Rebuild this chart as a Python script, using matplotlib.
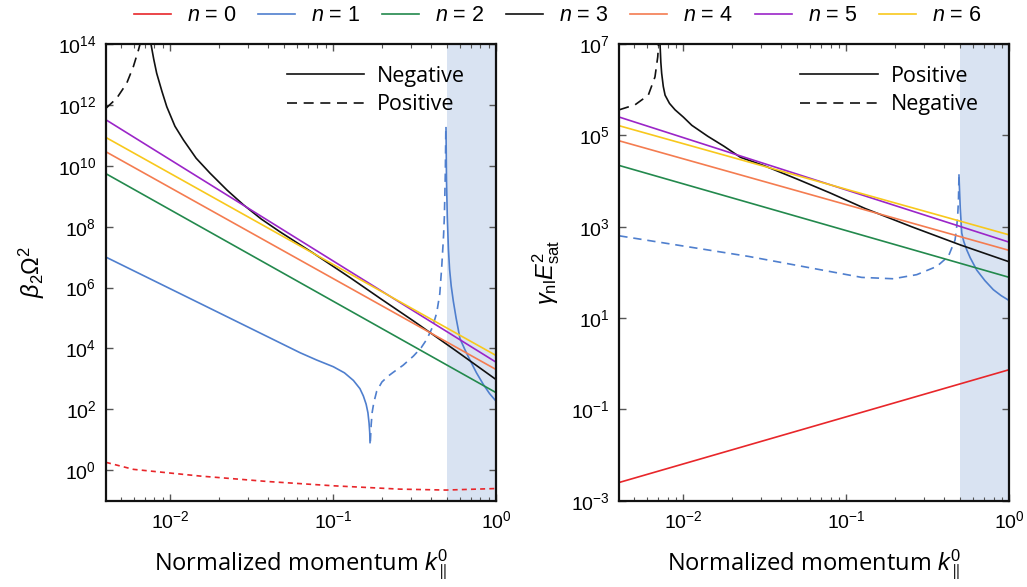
import numpy as np
import matplotlib
matplotlib.use("Agg")
import matplotlib.pyplot as plt
from matplotlib.lines import Line2D

plt.rcParams['font.family'] = ['Liberation Sans', 'DejaVu Sans']
plt.rcParams['mathtext.fontset'] = 'custom'
plt.rcParams['mathtext.rm'] = 'Liberation Sans'
plt.rcParams['mathtext.it'] = 'Liberation Sans:italic'
plt.rcParams['mathtext.bf'] = 'Liberation Sans:bold'

# ---------------- data (log10 values) ----------------
labels_n = ["$n$ = 0", "$n$ = 1", "$n$ = 2", "$n$ = 3", "$n$ = 4", "$n$ = 5", "$n$ = 6"]
colors = ['#e8262a', '#4f7fce', '#23894d', '#111111', '#f47c50', '#9b25c8', '#f8c81c']

# Left panel: beta_2 Omega^2   (log10 k, log10 value)
L_edge = [-2.393, 0.0]
L_n2 = [9.74, 2.55]
L_n4 = [10.46, 3.31]
L_n5 = [11.51, 3.55]
L_n6 = [10.93, 3.77]

L_n3_solid_lk = [-2.117, -2.100, -2.082, -2.050, -2.020, -1.970, -1.918, -1.840, -1.755,
                 -1.650, -1.550, -1.440, -1.325, -1.121, -0.896, -0.712, -0.500, -0.250, 0.0]
L_n3_solid_ly = [14.0, 13.5, 13.04, 12.45, 11.94, 11.30, 10.85, 10.25, 9.76,
                 9.20, 8.72, 8.25, 7.83, 7.13, 6.33, 5.65, 4.88, 3.94, 2.98]
L_n3_dash_lk = [-2.393, -2.327, -2.266, -2.225, -2.194, -2.184]
L_n3_dash_ly = [11.89, 12.22, 12.71, 13.26, 13.80, 14.0]

L_n1_solid_lk = [-2.393, -1.816, -1.202, -1.100, -0.998, -0.930, -0.875, -0.835, -0.814,
                 -0.797, -0.786, -0.779, -0.775, -0.773]
L_n1_solid_ly = [7.00, 5.48, 3.86, 3.62, 3.40, 3.20, 2.95, 2.68, 2.44,
                 2.17, 1.89, 1.55, 1.25, 0.91]
L_n1_dash_lk = [-0.771, -0.766, -0.760, -0.750, -0.732, -0.700, -0.660, -0.630, -0.570,
                -0.507, -0.460, -0.425, -0.390, -0.364, -0.345, -0.333, -0.322, -0.317,
                -0.311, -0.308]
L_n1_dash_ly = [0.95, 1.50, 1.90, 2.22, 2.60, 2.90, 3.10, 3.22, 3.45,
                3.75, 4.02, 4.30, 4.70, 5.17, 5.80, 6.70, 7.70, 8.34,
                9.80, 11.25]
L_n1_solid2_lk = [-0.307, -0.304, -0.299, -0.292, -0.285, -0.275, -0.262, -0.245, -0.221,
                  -0.190, -0.160, -0.120, -0.078, -0.040, 0.0]
L_n1_solid2_ly = [11.25, 9.54, 8.30, 7.25, 6.60, 6.05, 5.55, 5.00, 4.32,
                  3.95, 3.62, 3.20, 2.82, 2.52, 2.27]

L_n0_dash_lk = [-2.393, -2.225, -1.816, -1.400, -0.998, -0.589, -0.307, 0.0]
L_n0_dash_ly = [0.26, 0.03, -0.19, -0.37, -0.51, -0.62, -0.65, -0.60]

# Right panel: gamma_nl E_sat^2
R_n0 = [-2.60, -0.13]
R_n2 = [4.34, 1.89]
R_n4 = [4.88, 2.48]
R_n5 = [5.40, 2.66]
R_n6 = [5.21, 2.82]

R_n3_solid_lk = [-2.143, -2.138, -2.133, -2.123, -2.112, -2.085, -2.051, -2.000, -1.948,
                 -1.850, -1.750, -1.650, -1.500, -1.300, -1.100, -0.886, -0.600, -0.300, 0.0]
R_n3_solid_ly = [7.0, 6.60, 6.36, 6.07, 5.88, 5.70, 5.56, 5.40, 5.22,
                 4.98, 4.76, 4.52, 4.33, 4.04, 3.74, 3.40, 3.00, 2.60, 2.23]
R_n3_dash_lk = [-2.393, -2.296, -2.215, -2.174, -2.157, -2.152]
R_n3_dash_ly = [5.56, 5.67, 5.88, 6.28, 6.72, 7.0]

R_n1_dash_lk = [-2.393, -1.601, -0.906, -0.712, -0.568, -0.445, -0.374, -0.333, -0.325,
                -0.317, -0.312, -0.309]
R_n1_dash_ly = [2.80, 2.35, 1.89, 1.86, 1.95, 2.13, 2.35, 2.71, 2.93,
                3.22, 3.60, 4.13]
R_n1_solid_lk = [-0.309, -0.305, -0.301, -0.292, -0.280, -0.261, -0.240, -0.200, -0.150,
                 -0.098, -0.050, 0.0]
R_n1_solid_ly = [4.13, 3.75, 3.40, 2.86, 2.68, 2.49, 2.32, 2.05, 1.82,
                 1.62, 1.49, 1.38]

shade_lo, shade_hi = 0.5, 1.0
xlim = (10 ** -2.393, 1.0)

def P(a):
    return 10.0 ** np.asarray(a, dtype=float)

fig = plt.figure(figsize=(10.27, 5.87), dpi=100)
axL = fig.add_axes([0.1032, 0.147, 0.3798, 0.778])
axR = fig.add_axes([0.6030, 0.147, 0.3798, 0.778])
for ax in (axL, axR):
    ax.set_xscale('log')
    ax.set_yscale('log')

lw = 1.2
dash_blk = (0, (6, 4))
dash_blue = (0, (5, 3.5))
dash_red = (0, (3, 2.5))

# Left
axL.axvspan(shade_lo, shade_hi, color='#d9e3f2', lw=0, zorder=0)
axL.plot(P(L_n0_dash_lk), P(L_n0_dash_ly), color=colors[0], lw=lw, ls=dash_red)
axL.plot(P(L_n1_solid_lk), P(L_n1_solid_ly), color=colors[1], lw=lw)
axL.plot(P(L_n1_dash_lk), P(L_n1_dash_ly), color=colors[1], lw=lw, ls=dash_blue)
axL.plot(P(L_n1_solid2_lk), P(L_n1_solid2_ly), color=colors[1], lw=lw)
axL.plot(P(L_edge), P(L_n2), color=colors[2], lw=lw)
axL.plot(P(L_n3_solid_lk), P(L_n3_solid_ly), color=colors[3], lw=lw)
axL.plot(P(L_n3_dash_lk), P(L_n3_dash_ly), color=colors[3], lw=lw, ls=dash_blk)
axL.plot(P(L_edge), P(L_n4), color=colors[4], lw=lw)
axL.plot(P(L_edge), P(L_n5), color=colors[5], lw=lw)
axL.plot(P(L_edge), P(L_n6), color=colors[6], lw=lw)
axL.set_ylim(1e-1, 1e14)
axL.set_yticks([10.0 ** e for e in range(0, 15, 2)])

# Right
axR.axvspan(shade_lo, shade_hi, color='#d9e3f2', lw=0, zorder=0)
axR.plot(P(L_edge), P(R_n0), color=colors[0], lw=lw)
axR.plot(P(R_n1_dash_lk), P(R_n1_dash_ly), color=colors[1], lw=lw, ls=dash_blue)
axR.plot(P(R_n1_solid_lk), P(R_n1_solid_ly), color=colors[1], lw=lw)
axR.plot(P(L_edge), P(R_n2), color=colors[2], lw=lw)
axR.plot(P(R_n3_solid_lk), P(R_n3_solid_ly), color=colors[3], lw=lw)
axR.plot(P(R_n3_dash_lk), P(R_n3_dash_ly), color=colors[3], lw=lw, ls=dash_blk)
axR.plot(P(L_edge), P(R_n4), color=colors[4], lw=lw)
axR.plot(P(L_edge), P(R_n5), color=colors[5], lw=lw)
axR.plot(P(L_edge), P(R_n6), color=colors[6], lw=lw)
axR.set_ylim(1e-3, 1e7)
axR.set_yticks([10.0 ** e for e in range(-3, 8, 2)])

for ax in (axL, axR):
    ax.set_xlim(*xlim)
    ax.set_xticks([1e-2, 1e-1, 1e0])
    ax.yaxis.set_minor_locator(matplotlib.ticker.NullLocator())
    ax.tick_params(which='both', direction='in', top=True, right=True,
                   labelsize=14, color='#555555')
    ax.tick_params(which='major', length=5, width=1.0, pad=7)
    ax.tick_params(which='minor', length=3, width=0.8)
    for s in ax.spines.values():
        s.set_linewidth(1.6)
        s.set_color('#111111')
    ax.set_xlabel("Normalized momentum $k^0_\\parallel$", fontsize=17,
                  family=['Open Sans', 'DejaVu Sans'], labelpad=11)

axL.set_ylabel("$\\beta_2\\Omega^2$", fontsize=17, labelpad=8)
axR.set_ylabel("$\\gamma_{\\rm nl}E^2_{\\rm sat}$", fontsize=17, labelpad=6)

# inset legends
hs = Line2D([], [], color='#111111', lw=1.2)
hd = Line2D([], [], color='#111111', lw=1.2, ls=dash_blk)
for ax, names in ((axL, ["Negative", "Positive"]), (axR, ["Positive", "Negative"])):
    ax.legend([hs, hd], names, loc='upper right', frameon=False,
              handlelength=3.6, handletextpad=0.6, labelspacing=0.35,
              bbox_to_anchor=(0.965, 0.99), borderaxespad=0.4,
              prop={'family': ['Open Sans', 'DejaVu Sans'], 'size': 15.5})

# top legend
handles = [Line2D([], [], color=c, lw=1.2) for c in colors]
fig.legend(handles, labels_n, loc='upper center', ncol=7, frameon=False,
           bbox_to_anchor=(0.543, 1.024), fontsize=15.5, handlelength=1.72,
           columnspacing=1.0, handletextpad=0.75)

fig.savefig("out.png", dpi=100)
